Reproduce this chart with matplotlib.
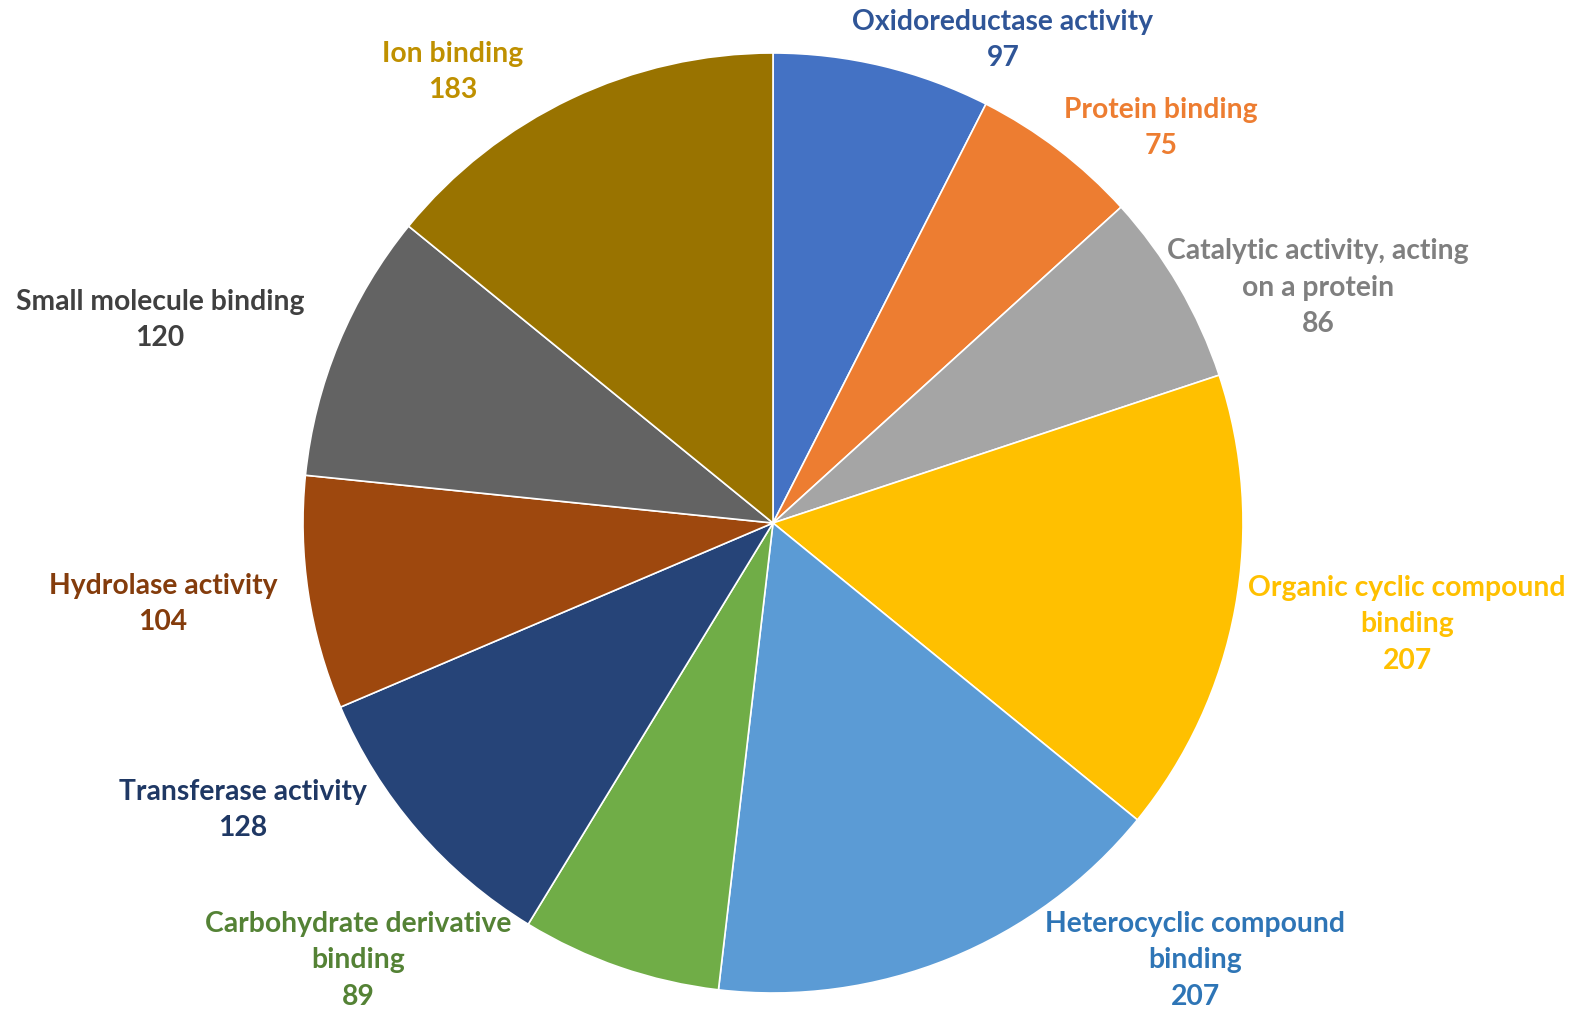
import matplotlib.pyplot as plt
import numpy as np

categories = ["Oxidoreductase activity", "Protein binding",
              "Catalytic activity, acting\non a protein",
              "Organic cyclic compound\nbinding",
              "Heterocyclic compound\nbinding",
              "Carbohydrate derivative\nbinding",
              "Transferase activity", "Hydrolase activity",
              "Small molecule binding", "Ion binding"]
counts = [97, 75, 86, 207, 207, 89, 128, 104, 120, 183]

slice_colors = ["#4472C4", "#ED7D31", "#A5A5A5", "#FFC000", "#5B9BD5",
                "#70AD47", "#264478", "#9E480E", "#636363", "#997300"]
text_colors = ["#2F5597", "#ED7D31", "#7F7F7F", "#FFC000", "#2E75B6",
               "#548235", "#1F3864", "#843C0C", "#404040", "#BF9000"]

# label centres in axes data units (pie radius = 1)
label_pos = [(0.489, 1.028), (0.826, 0.840), (1.160, 0.500), (1.349, -0.215),
             (0.898, -0.930), (-0.883, -0.930), (-1.128, -0.611),
             (-1.298, -0.172), (-1.304, 0.432), (-0.681, 0.960)]

fig = plt.figure(figsize=(15.73, 10.15), dpi=100)
ax = fig.add_axes([303 / 1573, 22 / 1015, 940 / 1573, 940 / 1015])

ax.pie(counts, colors=slice_colors, startangle=90, counterclock=False,
       radius=1, wedgeprops=dict(edgecolor="white", linewidth=1.2))
ax.set_xlim(-1, 1)
ax.set_ylim(-1, 1)
ax.set_aspect("equal")
ax.axis("off")

for name, n, (x, y), c in zip(categories, counts, label_pos, text_colors):
    ax.text(x, y, f"{name}\n{n}", ha="center", va="center", color=c,
            fontsize=20.3, fontweight="bold", family="Lato",
            linespacing=1.5, clip_on=False)

fig.savefig("out.png", dpi=100, facecolor="white")
